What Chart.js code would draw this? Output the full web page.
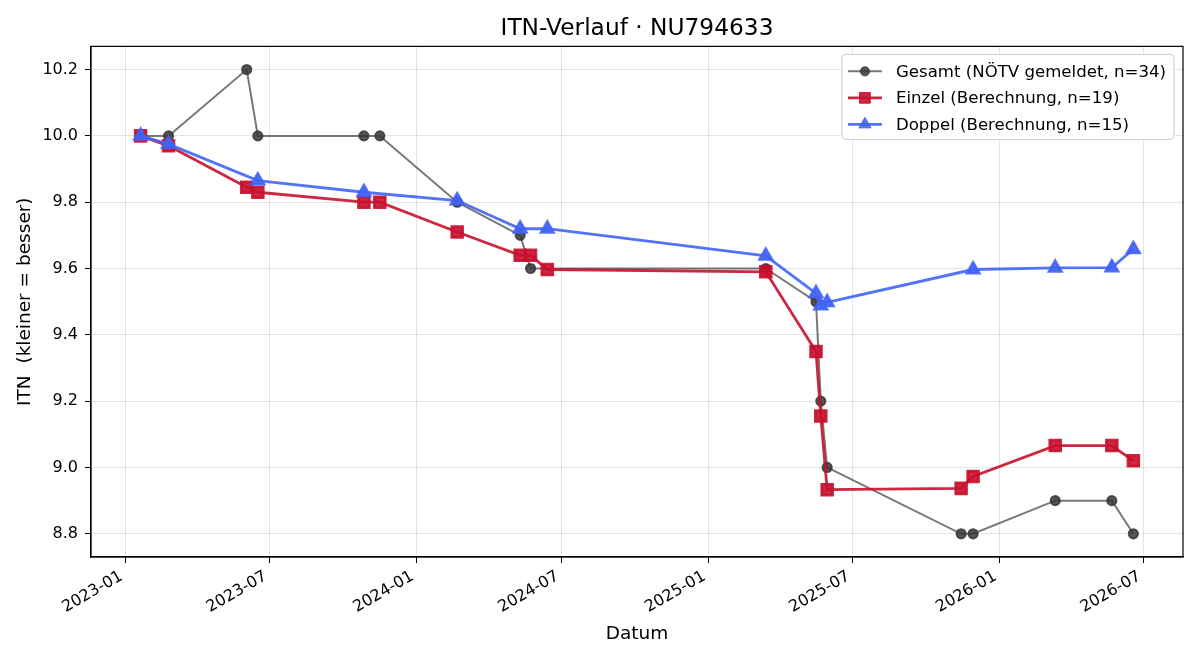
<!DOCTYPE html>
<html>
<head>
<meta charset="utf-8">
<title>ITN-Verlauf</title>
<script src="https://cdn.jsdelivr.net/npm/chart.js@4.4.1/dist/chart.umd.min.js"></script>
<style>
  body { margin: 0; background: #fff; }
  #wrap { width: 1200px; height: 660px; }
</style>
</head>
<body>
<div id="wrap"><canvas id="itnChart" width="1200" height="660"></canvas></div>
<script>
// --- data ---
const gesamtDates = ['2023-01-20','2023-02-24','2023-06-02','2023-06-16','2023-10-27','2023-11-16',
  '2024-02-21','2024-05-10','2024-05-23','2025-03-14','2025-05-16','2025-05-22','2025-05-30',
  '2025-11-14','2025-11-29','2026-03-12','2026-05-22','2026-06-18'];
const gesamtValues = [10.0,10.0,10.2,10.0,10.0,10.0,9.8,9.7,9.6,9.6,9.5,9.2,9.0,8.8,8.8,8.9,8.9,8.8];

const einzelDates = ['2023-01-20','2023-02-24','2023-06-02','2023-06-16','2023-10-27','2023-11-16',
  '2024-02-21','2024-05-10','2024-05-23','2024-06-13','2025-03-14','2025-05-16','2025-05-22',
  '2025-05-30','2025-11-14','2025-11-29','2026-03-12','2026-05-22','2026-06-18'];
const einzelValues = [10.0,9.97,9.845,9.83,9.80,9.80,9.71,9.64,9.64,9.597,9.59,9.35,9.155,
  8.933,8.937,8.973,9.066,9.066,9.02];

const doppelDates = ['2023-01-20','2023-02-24','2023-06-16','2023-10-27','2024-02-21','2024-05-10',
  '2024-06-13','2025-03-14','2025-05-16','2025-05-22','2025-05-30','2025-11-29','2026-03-12',
  '2026-05-22','2026-06-18'];
const doppelValues = [10.0,9.975,9.865,9.83,9.805,9.72,9.72,9.638,9.525,9.488,9.498,9.597,
  9.602,9.603,9.658];

const seriesLabels = ['Gesamt (NÖTV gemeldet, n=34)','Einzel (Berechnung, n=19)','Doppel (Berechnung, n=15)'];
const xTickDates = ['2023-01-01','2023-07-01','2024-01-01','2024-07-01','2025-01-01','2025-07-01','2026-01-01','2026-07-01'];
const yTicks = [8.8,9.0,9.2,9.4,9.6,9.8,10.0,10.2];

const FONT = "'DejaVu Sans', sans-serif";

function pts(dates, vals) {
  return dates.map((d, i) => ({ x: Date.parse(d), y: vals[i] }));
}
function fmtMonth(ms) {
  const d = new Date(ms);
  return d.getUTCFullYear() + '-' + String(d.getUTCMonth() + 1).padStart(2, '0');
}

// matplotlib-like 5% margins
const allX = gesamtDates.concat(einzelDates, doppelDates).map(d => Date.parse(d));
const allY = gesamtValues.concat(einzelValues, doppelValues);
const xLo = Math.min(...allX), xHi = Math.max(...allX);
const yLo = Math.min(...allY), yHi = Math.max(...allY);
const xPad = (xHi - xLo) * 0.05, yPad = (yHi - yLo) * 0.05;

// frame (all four spines)
const framePlugin = {
  id: 'frame',
  afterDatasetsDraw(chart) {
    const a = chart.chartArea, ctx = chart.ctx;
    ctx.save();
    ctx.strokeStyle = '#000';
    ctx.lineWidth = 1.2;
    ctx.strokeRect(a.left, a.top, a.right - a.left, a.bottom - a.top);
    ctx.restore();
  }
};

function drawMarker(ctx, style, x, y, r) {
  ctx.beginPath();
  if (style === 'circle') {
    ctx.arc(x, y, r, 0, Math.PI * 2);
  } else if (style === 'rect') {
    const s = r * Math.SQRT1_2;
    ctx.rect(x - s, y - s, 2 * s, 2 * s);
  } else {
    ctx.moveTo(x, y - r);
    ctx.lineTo(x + r * 0.866, y + r / 2);
    ctx.lineTo(x - r * 0.866, y + r / 2);
    ctx.closePath();
  }
  ctx.fill();
  ctx.stroke();
}

// legend box in the upper right corner, line + marker handles
const legendPlugin = {
  id: 'mplLegend',
  afterDraw(chart) {
    const a = chart.chartArea, ctx = chart.ctx;
    const sets = chart.data.datasets;
    ctx.save();
    ctx.font = '16.6px ' + FONT;
    let maxW = 0;
    sets.forEach(ds => { maxW = Math.max(maxW, ctx.measureText(ds.label).width); });
    const w = 54 + maxW + 8, h = 85;
    const x0 = a.right - 9 - w, y0 = a.top + 8;
    ctx.fillStyle = 'rgba(255,255,255,0.85)';
    ctx.strokeStyle = '#cccccc';
    ctx.lineWidth = 1;
    ctx.beginPath();
    ctx.roundRect(x0, y0, w, h, 4);
    ctx.fill();
    ctx.stroke();
    sets.forEach((ds, i) => {
      const cy = y0 + 17 + i * 26.5;
      ctx.strokeStyle = ds.borderColor;
      ctx.lineWidth = ds.borderWidth;
      ctx.beginPath();
      ctx.moveTo(x0 + 6, cy);
      ctx.lineTo(x0 + 40, cy);
      ctx.stroke();
      ctx.fillStyle = ds.pointBackgroundColor;
      ctx.strokeStyle = ds.pointBorderColor;
      ctx.lineWidth = 1;
      drawMarker(ctx, ds.pointStyle, x0 + 23, cy, ds.pointRadius);
      ctx.fillStyle = '#000';
      ctx.textBaseline = 'middle';
      ctx.textAlign = 'left';
      ctx.fillText(ds.label, x0 + 54, cy + 1);
    });
    ctx.restore();
  }
};

const data = {
  datasets: [{
    label: seriesLabels[0],
    data: pts(gesamtDates, gesamtValues),
    borderColor: 'rgba(68,68,68,0.72)',
    borderWidth: 2,
    pointStyle: 'circle',
    pointRadius: 4.6,
    pointBackgroundColor: 'rgba(55,55,55,0.85)',
    pointBorderColor: 'rgba(55,55,55,0.85)',
    order: 3
  }, {
    label: seriesLabels[1],
    data: pts(einzelDates, einzelValues),
    borderColor: 'rgba(200,16,46,0.9)',
    borderWidth: 2.8,
    pointStyle: 'rect',
    pointRadius: 7.6,
    pointBackgroundColor: 'rgba(200,16,46,0.9)',
    pointBorderColor: 'rgba(200,16,46,0.9)',
    order: 2
  }, {
    label: seriesLabels[2],
    data: pts(doppelDates, doppelValues),
    borderColor: 'rgba(65,100,245,0.9)',
    borderWidth: 2.8,
    pointStyle: 'triangle',
    pointRadius: 7,
    pointBackgroundColor: 'rgba(65,100,245,0.9)',
    pointBorderColor: 'rgba(65,100,245,0.9)',
    order: 1
  }]
};

const config = {
  type: 'line',
  data,
  options: {
    responsive: false,
    animation: false,
    devicePixelRatio: 1,
    layout: { padding: { left: 0, right: 17, top: 0, bottom: 0 } },
    plugins: {
      legend: { display: false },
      tooltip: { enabled: false },
      title: {
        display: true,
        fullSize: false,
        text: 'ITN-Verlauf · NU794633',
        color: '#000',
        font: { family: FONT, size: 23.3, weight: 'normal' },
        padding: { top: 15, bottom: 3.4 }
      }
    },
    scales: {
      x: {
        type: 'linear',
        min: xLo - xPad,
        max: xHi + xPad,
        afterBuildTicks(scale) {
          scale.ticks = xTickDates.map(d => ({ value: Date.parse(d) }));
        },
        afterFit(scale) { scale.height = 103; },
        ticks: {
          autoSkip: false,
          minRotation: 30,
          maxRotation: 30,
          padding: 4,
          labelOffset: -4,
          color: '#000',
          font: { family: FONT, size: 16 },
          callback: v => fmtMonth(v)
        },
        grid: { color: 'rgba(0,0,0,0.1)', tickColor: '#000', tickLength: 6, lineWidth: 1 },
        border: { color: '#000', width: 1.2 },
        title: {
          display: true,
          text: 'Datum',
          color: '#000',
          font: { family: FONT, size: 18.5 },
          padding: { top: 0, bottom: 15 }
        }
      },
      y: {
        type: 'linear',
        min: yLo - yPad,
        max: yHi + yPad,
        afterBuildTicks(scale) {
          scale.ticks = yTicks.map(v => ({ value: v }));
        },
        afterFit(scale) { scale.width = 91; },
        ticks: {
          padding: 7,
          color: '#000',
          font: { family: FONT, size: 16 },
          callback: v => Number(v).toFixed(1)
        },
        grid: { color: 'rgba(0,0,0,0.1)', tickColor: '#000', tickLength: 6, lineWidth: 1 },
        border: { color: '#000', width: 1.2 },
        title: {
          display: true,
          text: 'ITN  (kleiner = besser)',
          color: '#000',
          font: { family: FONT, size: 18.5 },
          padding: { top: 14, bottom: 0 }
        }
      }
    }
  },
  plugins: [framePlugin, legendPlugin]
};

const itnChart = new Chart(document.getElementById('itnChart'), config);
</script>
</body>
</html>
